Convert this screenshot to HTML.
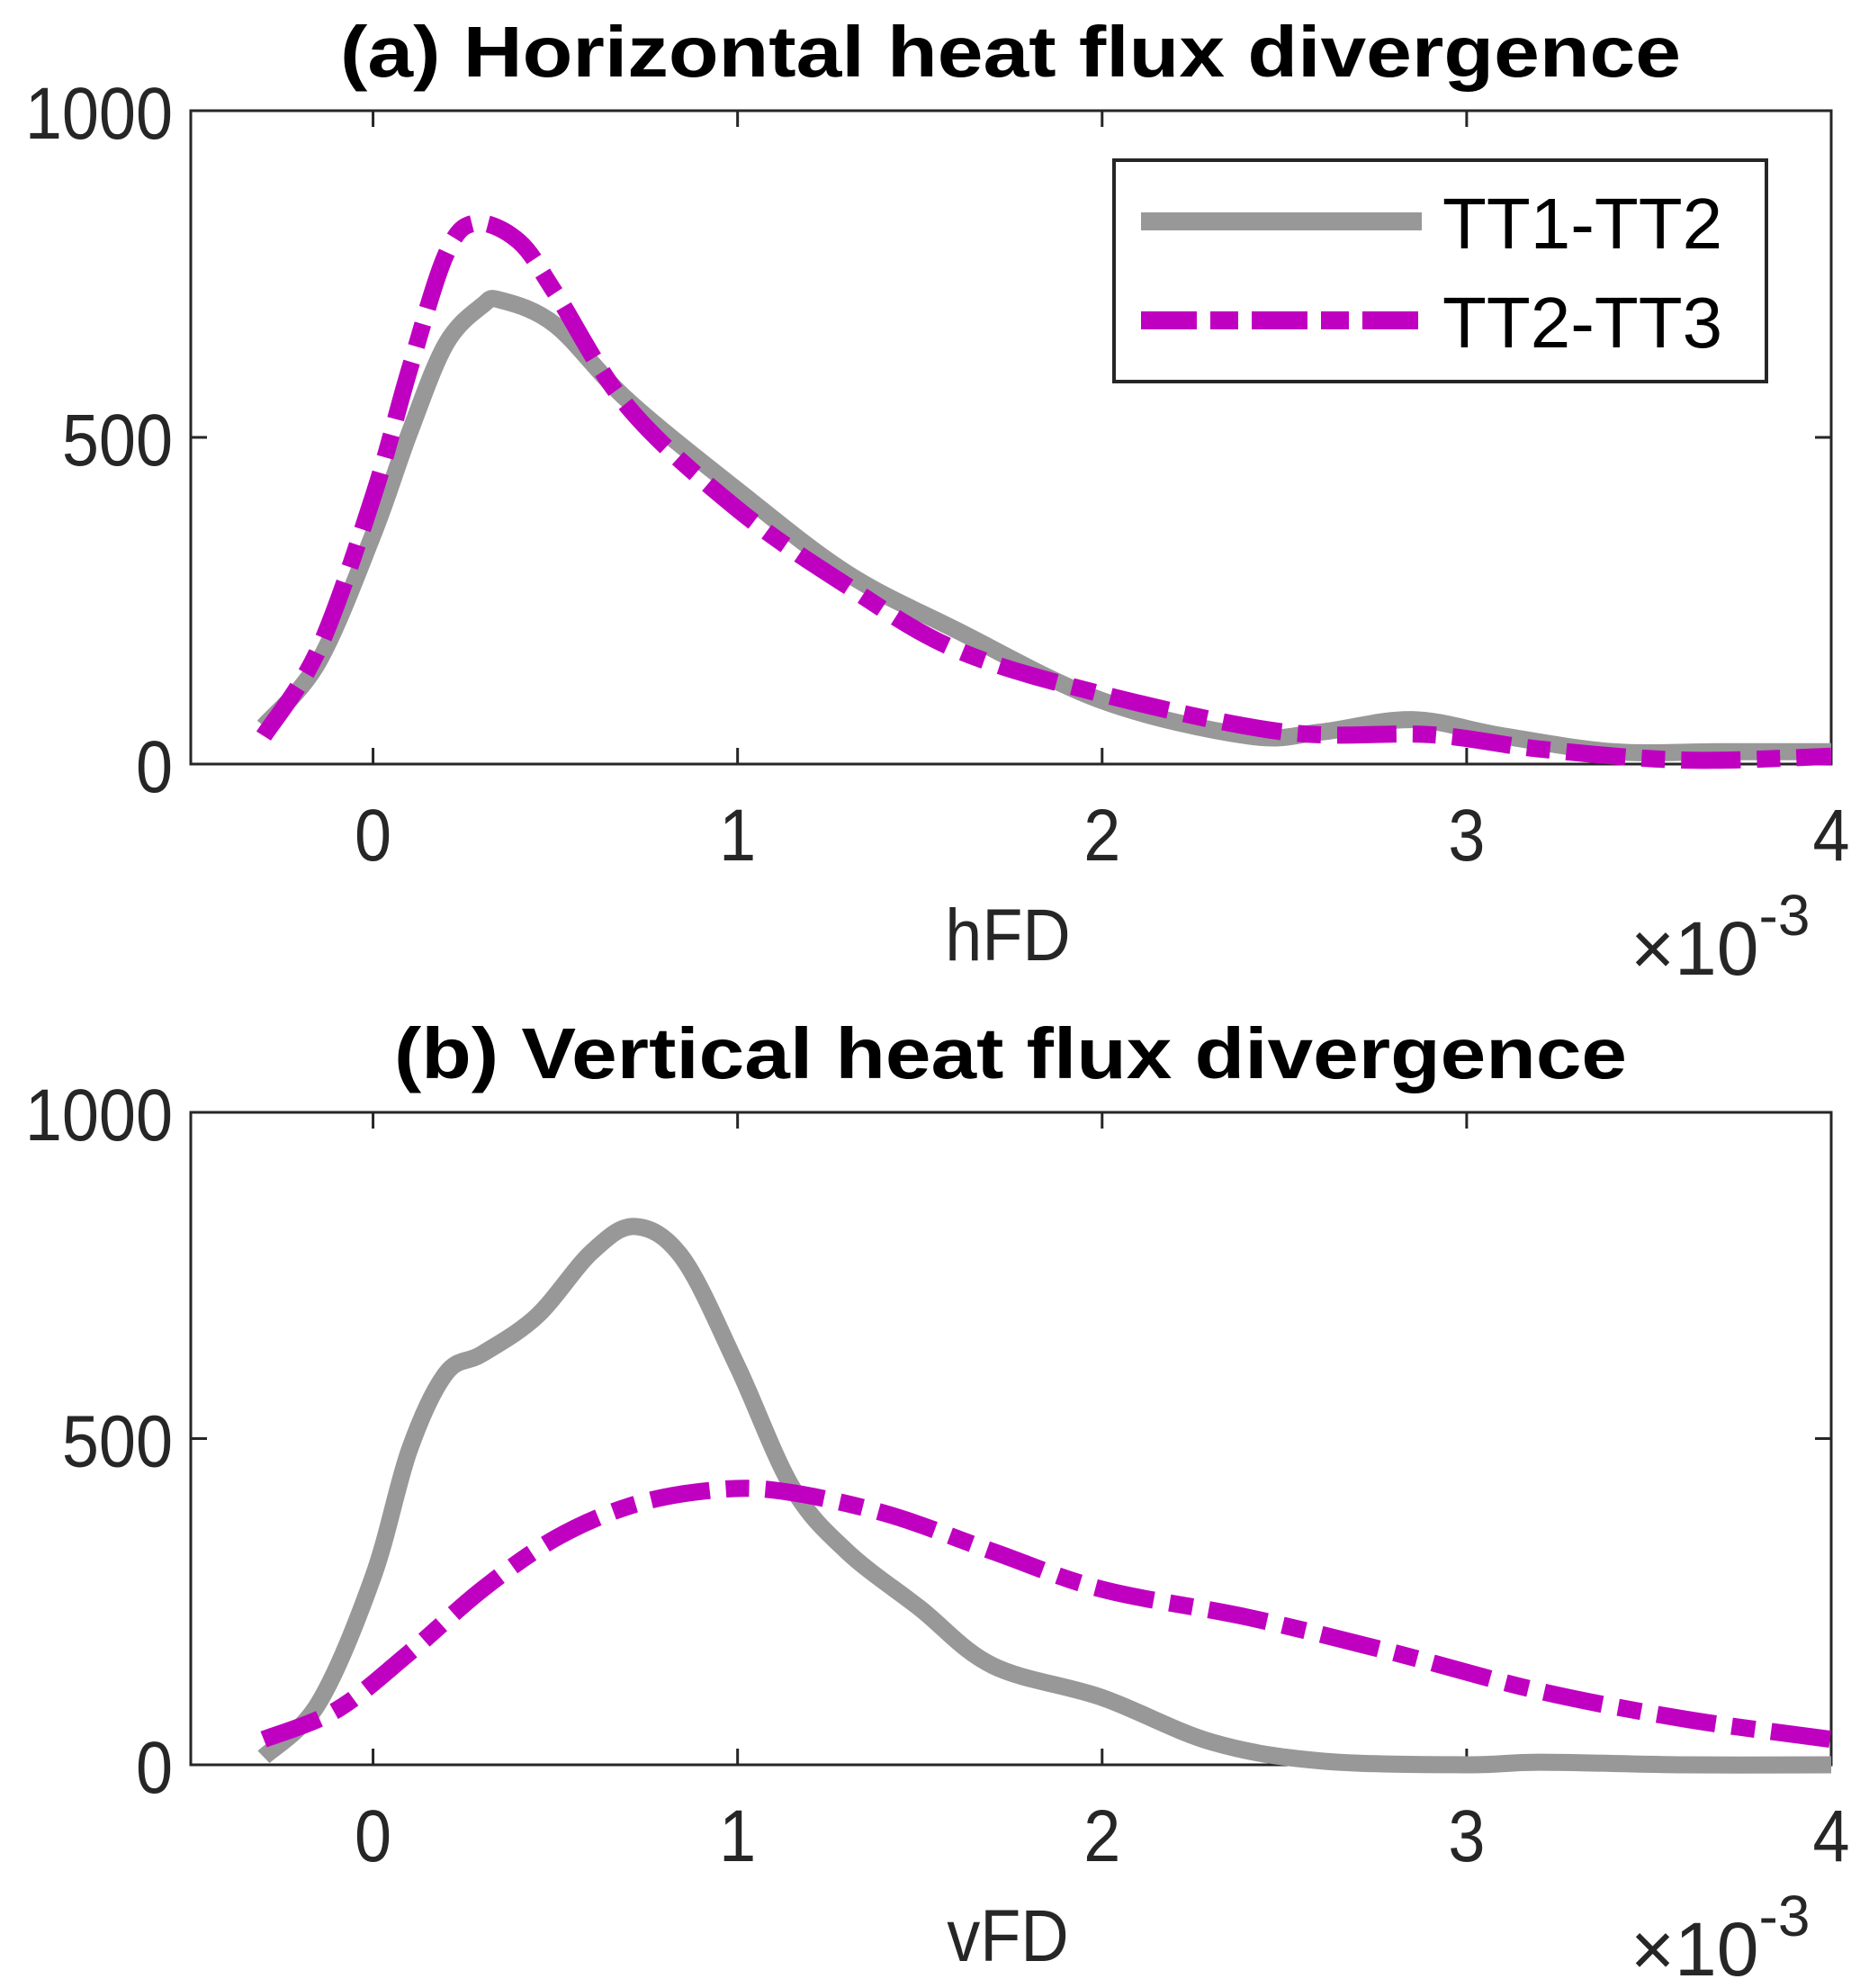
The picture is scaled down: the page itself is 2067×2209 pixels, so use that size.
<!DOCTYPE html>
<html><head><meta charset="utf-8"><style>
html,body{margin:0;padding:0;background:#fff;}
svg{display:block;font-family:"Liberation Sans",sans-serif;}
</style></head><body>
<svg id="chart" width="2067" height="2209" viewBox="0 0 2067 2209" xmlns="http://www.w3.org/2000/svg"></svg>
<script>
const xTicks = [0, 1, 2, 3, 4];
const yTicks = [0, 500, 1000];
const seriesNames = ["TT1-TT2", "TT2-TT3"];
const aGrayX = [-0.3,-0.15,0,0.1,0.2,0.3,0.35,0.5,0.7,1.0,1.3,1.6,2.0,2.4,2.6,2.85,3.1,3.4,3.7,4];
const aGrayY = [58,156,351,507,643,702,710,672,556,419,292,205,97,43,49,68,43,19,19,19];
const aMagX = [-0.3,-0.15,0,0.1,0.2,0.28,0.4,0.5,0.7,1.0,1.3,1.6,2.0,2.5,2.9,3.2,3.6,4];
const aMagY = [43,175,409,604,780,828,800,721,546,390,273,175,107,49,45,23,6,12];
const bGrayX = [-0.3,-0.15,0,0.1,0.2,0.3,0.45,0.6,0.72,0.85,1.0,1.15,1.3,1.5,1.7,2.0,2.3,2.6,3.0,3.2,3.6,4];
const bGrayY = [12,94,288,483,600,630,688,786,825,776,610,425,327,240,152,103,35,6,0,4,0,0];
const bMagX = [-0.3,-0.1,0.1,0.3,0.5,0.7,0.9,1.1,1.4,1.7,2.0,2.4,2.8,3.2,3.6,4];
const bMagY = [39,84,172,269,347,396,419,421,386,327,269,226,172,113,70,39];

const NS = "http://www.w3.org/2000/svg";
const svg = document.getElementById("chart");
const GRAY = "#989898", MAG = "#c000c0", AX = "#262626";
function mk(tag, attrs, parent) {
  const e = document.createElementNS(NS, tag);
  for (const k in attrs) e.setAttribute(k, attrs[k]);
  (parent || svg).appendChild(e);
  return e;
}
function smoothPath(pts) {
  let d = "M" + pts[0][0] + "," + pts[0][1];
  for (let i = 0; i < pts.length - 1; i++) {
    const p0 = pts[Math.max(0, i - 1)], p1 = pts[i], p2 = pts[i + 1], p3 = pts[Math.min(pts.length - 1, i + 2)];
    const c1x = p1[0] + (p2[0] - p0[0]) / 6, c1y = p1[1] + (p2[1] - p0[1]) / 6;
    const c2x = p2[0] - (p3[0] - p1[0]) / 6, c2y = p2[1] - (p3[1] - p1[1]) / 6;
    d += " C" + c1x + "," + c1y + " " + c2x + "," + c2y + " " + p2[0] + "," + p2[1];
  }
  return d;
}
function label(g, x, y, txt, anchor, size) {
  const tl = mk("text", {transform: "translate(" + x + "," + y + ") scale(0.9,1)", "text-anchor": anchor, "font-size": size, fill: AX}, g);
  tl.textContent = txt;
  return tl;
}
function panel(id, top, bottom, title, xlabel, gx, gy, mx, my, legend) {
  const L = 212, R = 2035;
  const xs = v => L + (v + 0.5) / 4.5 * (R - L);
  const ys = v => bottom - v / 1000 * (bottom - top);
  const g = mk("g", {});
  
  
  const t = mk("text", {x: 1123, y: top - 38, "text-anchor": "middle", "font-size": 80, "font-weight": "bold", fill: "#000", textLength: title.length > 34 ? 1490 : 1370, lengthAdjust: "spacingAndGlyphs"}, g);
  t.textContent = title;
  
  
  const box = mk("rect", {x: L, y: top, width: R - L, height: bottom - top, fill: "none", stroke: AX, "stroke-width": 3}, g);
  
  
  xTicks.forEach(v => {
    const x = xs(v);
    mk("line", {x1: x, y1: bottom, x2: x, y2: bottom - 18, stroke: AX, "stroke-width": 3}, g);
    mk("line", {x1: x, y1: top, x2: x, y2: top + 18, stroke: AX, "stroke-width": 3}, g);
    const tl = label(g, x, bottom + 107, v, "middle", 82);
    
    
  });
  yTicks.forEach(v => {
    const y = ys(v);
    mk("line", {x1: L, y1: y, x2: L + 18, y2: y, stroke: AX, "stroke-width": 3}, g);
    mk("line", {x1: R, y1: y, x2: R - 18, y2: y, stroke: AX, "stroke-width": 3}, g);
    const tl = label(g, 192, y + 31, v, "end", 82);
    
    
  });
  const xl = label(g, 1120, bottom + 218, xlabel, "middle", 82);
  
  
  const ex = mk("text", {x: 1812, y: bottom + 234, "font-size": 84, fill: AX}, g);
  ex.textContent = "×10";
  
  
  const sup = mk("tspan", {dy: -44, "font-size": 64}, ex);
  sup.textContent = "-3";
  const clip = mk("clipPath", {id: id + "clip"}, g);
  mk("rect", {x: L, y: top - 5, width: R - L, height: bottom - top + 20}, clip);
  const p1 = mk("path", {d: smoothPath(gx.map((v, i) => [xs(v), ys(gy[i])])), fill: "none", stroke: GRAY, "stroke-width": 19, "stroke-linejoin": "round", "clip-path": "url(#" + id + "clip)"}, g);
  
  
  const p2 = mk("path", {d: smoothPath(mx.map((v, i) => [xs(v), ys(my[i])])), fill: "none", stroke: MAG, "stroke-width": 19, "stroke-dasharray": "66 18 26 18", "clip-path": "url(#" + id + "clip)"}, g);
  
  
  if (legend) {
    const lg = mk("g", {}, g);
    
    
    mk("rect", {x: 1238, y: 178, width: 725, height: 246, fill: "#fff", stroke: AX, "stroke-width": 4}, lg);
    const l1 = mk("line", {x1: 1268, y1: 246, x2: 1580, y2: 246, stroke: GRAY, "stroke-width": 20}, lg);
    
    
    const l2 = mk("line", {x1: 1268, y1: 356, x2: 1580, y2: 356, stroke: MAG, "stroke-width": 20, "stroke-dasharray": "62 15 31 15"}, lg);
    
    
    [276, 386].forEach((y, i) => {
      const tx = mk("text", {x: 1603, y: y, "font-size": 80, fill: "#000"}, lg);
      tx.textContent = seriesNames[i];
      
      
    });
  }
}
panel("a", 123, 849, "(a) Horizontal heat flux divergence", "hFD", aGrayX, aGrayY, aMagX, aMagY, true);
panel("b", 1236, 1961, "(b) Vertical heat flux divergence", "vFD", bGrayX, bGrayY, bMagX, bMagY, false);
</script>
</body></html>
